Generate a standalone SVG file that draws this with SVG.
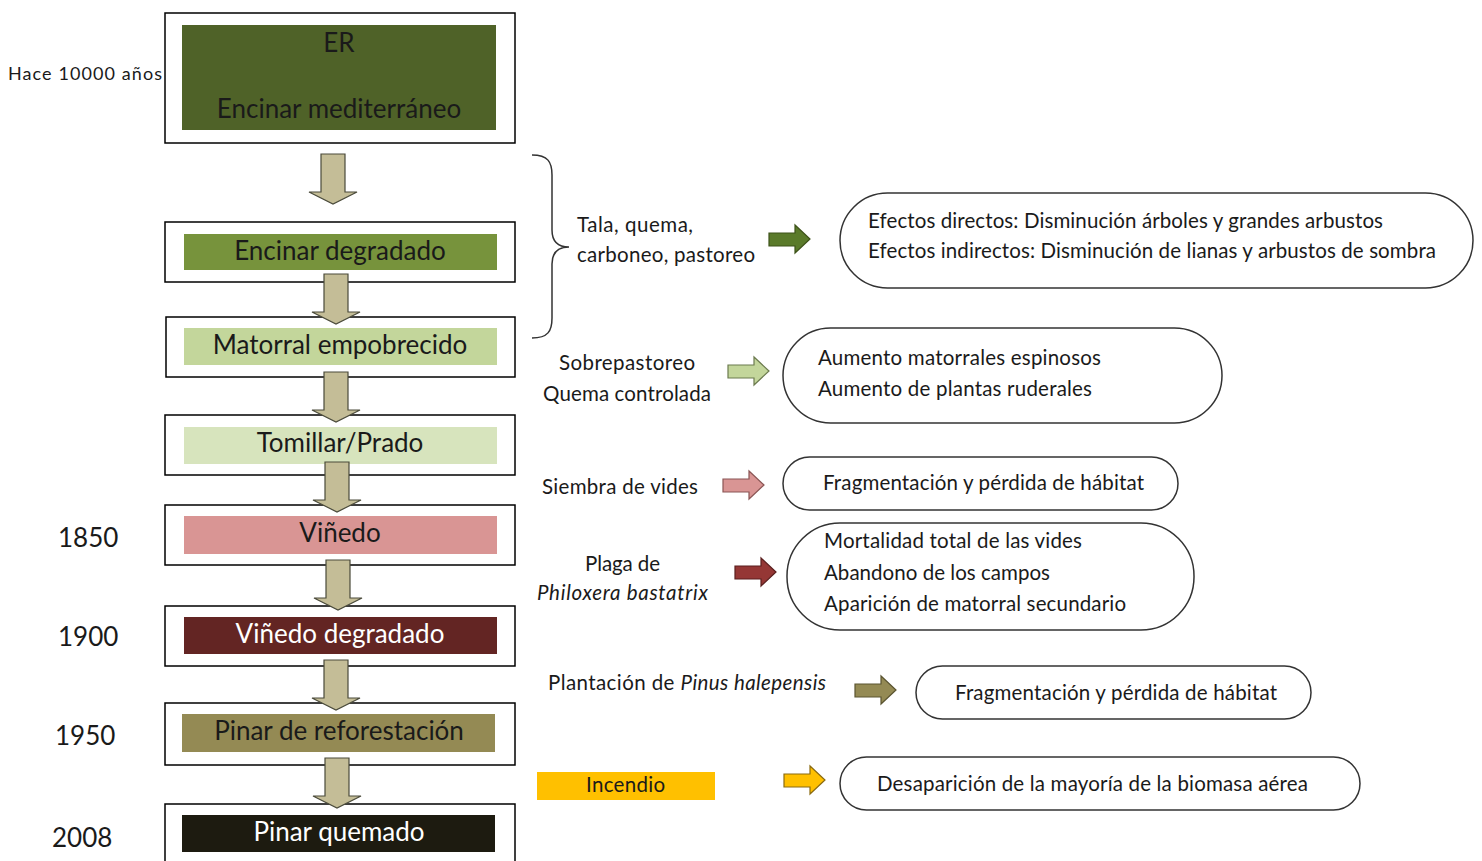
<svg xmlns="http://www.w3.org/2000/svg" width="1482" height="861" viewBox="0 0 1482 861">
<style>
.outer{fill:#fff;stroke:#000;stroke-width:1.5}
.t{font-family:Lato,"Liberation Sans",sans-serif;fill:#1a1a1a}
.big{font-size:26px;text-anchor:middle}
.yr{font-size:26px}
.lbl{font-size:20.5px}
.eff{font-size:20.5px}
.pill{fill:#fff;stroke:#333;stroke-width:1.5}
.down{fill:#c4bd97;stroke:#4a4a3a;stroke-width:1.2}
.ra{stroke-width:1.2}
</style>
<defs>
<path id="dn" d="M-12,0 H12 V38 H24 L0,50 L-24,38 H-12 Z"/>
<path id="rt" d="M0,7 H26 V-1 L41,13 L26,27 V20 H0 Z"/>
</defs>
<rect width="1482" height="861" fill="#fff"/>

<g id="n1">
<rect class="outer" x="165" y="13" width="350" height="130"/>
<rect x="182" y="25" width="314" height="105" fill="#4f6228"/>
<text class="t big" x="339" y="52">ER</text>
<text class="t big" x="339" y="118">Encinar mediterráneo</text>
</g>
<g id="n2">
<rect class="outer" x="165" y="222" width="350" height="60"/>
<rect x="184" y="234" width="313" height="36" fill="#77933c"/>
<text class="t big" x="340" y="260">Encinar degradado</text>
</g>
<g id="n3">
<rect class="outer" x="166" y="317" width="349" height="60"/>
<rect x="184" y="328" width="313" height="37" fill="#c3d69b"/>
<text class="t big" x="340" y="354">Matorral empobrecido</text>
</g>
<g id="n4">
<rect class="outer" x="165" y="415" width="350" height="60"/>
<rect x="184" y="427" width="313" height="37" fill="#d7e4bd"/>
<text class="t big" x="340" y="452">Tomillar/Prado</text>
</g>
<g id="n5">
<rect class="outer" x="165" y="505" width="350" height="60"/>
<rect x="184" y="516" width="313" height="38" fill="#d99594"/>
<text class="t big" x="340" y="542">Viñedo</text>
</g>
<g id="n6">
<rect class="outer" x="165" y="606" width="350" height="60"/>
<rect x="184" y="617" width="313" height="37" fill="#632523"/>
<text class="t big" x="340" y="643" style="fill:#fff">Viñedo degradado</text>
</g>
<g id="n7">
<rect class="outer" x="165" y="703" width="350" height="62"/>
<rect x="182" y="714" width="313" height="38" fill="#948a54"/>
<text class="t big" x="339" y="740">Pinar de reforestación</text>
</g>
<g id="n8">
<rect class="outer" x="165" y="804" width="350" height="70"/>
<rect x="182" y="815" width="313" height="37" fill="#1d1b10"/>
<text class="t big" x="339" y="841" style="fill:#fff">Pinar quemado</text>
</g>

<g id="dates">
<text class="t" x="8" y="80" style="font-size:18px" textLength="154">Hace 10000  años</text>
<text class="t yr" x="58" y="547">1850</text>
<text class="t yr" x="58" y="646">1900</text>
<text class="t yr" x="55" y="745">1950</text>
<text class="t yr" x="52" y="847">2008</text>
</g>

<g id="connectors">
<use href="#dn" class="down" x="333" y="154"/>
<use href="#dn" class="down" x="336" y="274"/>
<use href="#dn" class="down" x="336" y="372"/>
<use href="#dn" class="down" x="337" y="462"/>
<use href="#dn" class="down" x="338" y="560"/>
<use href="#dn" class="down" x="336" y="660"/>
<use href="#dn" class="down" x="337" y="758"/>
<path d="M532,155 C548,155 552,162 552,175 V230 C552,242 558,247 569,247 C558,247 552,252 552,264 V318 C552,331 548,338 532,338" fill="none" stroke="#333" stroke-width="1.5"/>
<use href="#rt" class="ra" x="769" y="226" fill="#5a7a2a" stroke="#3d5219"/>
<use href="#rt" class="ra" x="728" y="358" fill="#c3d69b" stroke="#6b7a4e"/>
<use href="#rt" class="ra" x="723" y="472" fill="#d99594" stroke="#8a5554"/>
<use href="#rt" class="ra" x="735" y="559" fill="#953735" stroke="#5a1f1e"/>
<use href="#rt" class="ra" x="855" y="677" fill="#948a54" stroke="#5a5430"/>
<use href="#rt" class="ra" x="784" y="767" fill="#ffc000" stroke="#8a6a10"/>
</g>

<g id="causes">
<text class="t lbl" x="577" y="232" textLength="116">Tala, quema,</text>
<text class="t lbl" x="577" y="262" textLength="178">carboneo, pastoreo</text>
<text class="t lbl" x="559" y="370" textLength="136">Sobrepastoreo</text>
<text class="t lbl" x="543" y="401" textLength="168">Quema controlada</text>
<text class="t lbl" x="542" y="494" textLength="156">Siembra de vides</text>
<text class="t lbl" x="585" y="571" textLength="75">Plaga de</text>
<text class="t lbl" x="537" y="600" font-style="italic" textLength="171">Philoxera bastatrix</text>
<text class="t lbl" x="548" y="690" textLength="278">Plantación de <tspan font-style="italic">Pinus halepensis</tspan></text>
<rect x="537" y="772" width="178" height="28" fill="#ffc000"/>
<text class="t lbl" x="586" y="792" textLength="79">Incendio</text>
</g>

<g id="e1">
<rect class="pill" x="840" y="193" width="633" height="95" rx="47.5"/>
<text class="t eff" x="868" y="228" textLength="515">Efectos directos: Disminución  árboles y grandes arbustos</text>
<text class="t eff" x="868" y="258" textLength="568">Efectos indirectos: Disminución  de lianas y arbustos de sombra</text>
</g>
<g id="e2">
<rect class="pill" x="783" y="328" width="439" height="95" rx="47.5"/>
<text class="t eff" x="818" y="365" textLength="283">Aumento matorrales espinosos</text>
<text class="t eff" x="818" y="396" textLength="274">Aumento de plantas ruderales</text>
</g>
<g id="e3">
<rect class="pill" x="783" y="457" width="395" height="53" rx="26.5"/>
<text class="t eff" x="823" y="490" textLength="321">Fragmentación y pérdida de hábitat</text>
</g>
<g id="e4">
<rect class="pill" x="787" y="523" width="407" height="107" rx="53"/>
<text class="t eff" x="824" y="548" textLength="258">Mortalidad total de las vides</text>
<text class="t eff" x="824" y="580" textLength="226">Abandono de los campos</text>
<text class="t eff" x="824" y="611" textLength="302">Aparición de matorral secundario</text>
</g>
<g id="e5">
<rect class="pill" x="916" y="666" width="395" height="53" rx="26.5"/>
<text class="t eff" x="955" y="700" textLength="322">Fragmentación y pérdida de hábitat</text>
</g>
<g id="e6">
<rect class="pill" x="840" y="757" width="520" height="53" rx="26.5"/>
<text class="t eff" x="877" y="791" textLength="431">Desaparición de la mayoría de la biomasa aérea</text>
</g>
</svg>
